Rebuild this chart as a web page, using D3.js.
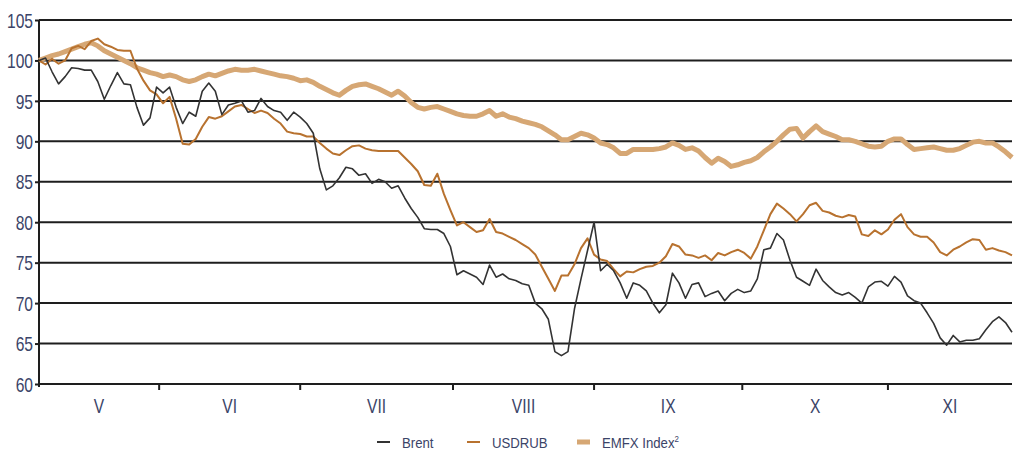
<!DOCTYPE html>
<html>
<head>
<meta charset="utf-8">
<script src="https://cdn.jsdelivr.net/npm/d3@7"></script>
<style>
  body { margin: 0; background: #fff; }
  svg text { font-family: "Liberation Sans", Arial, sans-serif; }
</style>
</head>
<body>
<svg width="1014" height="454"></svg>
<script>
// month labels and where each month starts (trading-day index)
const months = ["V", "VI", "VII", "VIII", "IX", "X", "XI"];
const monthStarts = [0, 18.4, 40, 63.4, 85, 107.7, 130, 149];
const yTicks = [60, 65, 70, 75, 80, 85, 90, 95, 100, 105];

const brent = [
  100, 100.3, 98.6, 97.1, 98, 99.1, 99, 98.8, 98.8, 97.4,
  95.2, 96.9, 98.5, 97.1, 97, 94.2, 92, 92.9, 96.7, 96,
  96.7, 94.2, 92.2, 93.6, 93.1, 96.2, 97.2, 96.2, 93.3, 94.5,
  94.7, 95, 93.6, 93.8, 95.3, 94.3, 93.8, 93.6, 92.6, 93.6,
  93, 92.2, 91, 86.6, 84, 84.5, 85.5, 86.8, 86.6, 85.8,
  86, 84.8, 85.3, 85, 84.2, 84.5, 83, 81.7, 80.6, 79.2,
  79.1, 79.1, 78.6, 77, 73.5, 74, 73.6, 73.2, 72.3, 74.7,
  73.2, 73.6, 73, 72.8, 72.4, 72.2, 70, 69.3, 68, 64,
  63.5, 64, 69.3, 73, 76.5, 80, 74, 74.8, 74, 72.5,
  70.6, 72.5, 72.2, 71.5, 70, 68.8, 69.8, 73.7, 72.5, 70.6,
  72.3, 72.5, 70.8, 71.2, 71.5, 70.3, 71.2, 71.7, 71.3, 71.5,
  73, 76.6, 76.8, 78.6, 77.8, 75.3, 73.2, 72.7, 72.2, 74.2,
  72.8, 72, 71.3, 71, 71.3, 70.7, 70, 72, 72.6, 72.7,
  72.1, 73.3, 72.6, 70.9, 70.3, 70, 68.8, 67.5, 65.7, 64.8,
  66, 65.2, 65.4, 65.4, 65.6, 66.7, 67.7, 68.3, 67.6, 66.4
];

const usdrub = [
  100, 99.5, 100.2, 99.6, 100, 101.5, 101.8, 101.4, 102.4, 102.7,
  102, 101.7, 101.3, 101.2, 101.2, 99, 97.5, 96.3, 95.8, 94.7,
  95.5, 92.8, 89.7, 89.6, 90.3, 91.8, 93, 92.8, 93.1, 93.7,
  94.3, 94.5, 94, 93.5, 93.8, 93.5, 92.8, 92.2, 91.2, 91,
  90.9, 90.6, 90.6, 89.8, 89.1, 88.5, 88.3, 88.9, 89.4, 89.5,
  89.1, 88.9, 88.8, 88.8, 88.8, 88.8, 88, 87.2, 86.3, 84.6,
  84.5, 86, 83.5, 81.5, 79.6, 80, 79.4, 78.8, 79, 80.4,
  78.8, 78.6, 78.2, 77.8, 77.3, 76.8, 76, 74.5, 73, 71.5,
  73.4, 73.4, 74.8, 76.8, 78, 76, 75.4, 75.2, 74.2, 73.3,
  73.9, 73.8, 74.2, 74.5, 74.6, 75, 75.8, 77.3, 77, 76,
  75.9, 75.6, 75.9, 75.3, 76.2, 75.9, 76.3, 76.6, 76.2, 75.5,
  77, 79, 81, 82.3, 81.7, 81, 80.1, 81, 82.1, 82.4,
  81.4, 81.2, 80.8, 80.6, 80.9, 80.7, 78.5, 78.3, 79, 78.5,
  79.1, 80.3, 81, 79.4, 78.5, 78.2, 78.2, 77.5, 76.3, 75.9,
  76.6, 77, 77.5, 77.9, 77.8, 76.6, 76.8, 76.5, 76.3, 75.9
];

const emfx = [
  100, 100.3, 100.6, 100.8, 101.1, 101.4, 101.7, 102, 102.2, 101.8,
  101.2, 100.8, 100.4, 100, 99.6, 99.1, 98.8, 98.5, 98.3, 98,
  98.2, 98, 97.6, 97.4, 97.6, 98, 98.3, 98.1, 98.4, 98.7,
  98.9, 98.8, 98.8, 98.9, 98.7, 98.5, 98.3, 98.1, 98, 97.8,
  97.5, 97.6, 97.3, 96.8, 96.4, 96, 95.7, 96.3, 96.8, 97,
  97.1, 96.8, 96.5, 96.1, 95.7, 96.2, 95.6, 94.8, 94.2, 94,
  94.2, 94.3, 94, 93.7, 93.4, 93.2, 93.1, 93.1, 93.4, 93.8,
  93.1, 93.4, 93, 92.8, 92.5, 92.3, 92.1, 91.8, 91.3, 90.8,
  90.2, 90.2, 90.6, 91, 90.8, 90.4, 89.8, 89.6, 89.2, 88.5,
  88.5, 89, 89, 89, 89, 89.1, 89.3, 89.8, 89.5, 89,
  89.2, 88.8, 88, 87.3, 87.9, 87.5, 86.9, 87.1, 87.4, 87.6,
  88, 88.7, 89.3, 90, 90.8, 91.5, 91.6, 90.4, 91.2, 91.9,
  91.2, 90.9, 90.6, 90.2, 90.2, 90, 89.7, 89.4, 89.3, 89.4,
  90, 90.3, 90.3, 89.6, 89, 89.1, 89.2, 89.3, 89.1, 88.9,
  88.9, 89.1, 89.5, 89.9, 90, 89.8, 89.8, 89.3, 88.7, 88
];

const svg = d3.select("svg");
const plotLeft = 39, plotRight = 1012, plotTop = 20, plotBottom = 384;
const textColor = "#3b4468";
const narrow = 0.78;   // the reference uses a condensed face

const x = d3.scaleLinear().domain([0, brent.length - 1]).range([plotLeft, plotRight]);
const y = d3.scaleLinear().domain([60, 105]).range([plotBottom, plotTop]);

// grid lines
svg.append("g")
  .selectAll("line")
  .data(yTicks)
  .enter()
  .append("line")
  .attr("x1", plotLeft).attr("x2", plotRight)
  .attr("y1", d => y(d)).attr("y2", d => y(d))
  .attr("stroke", "#1e1e1e")
  .attr("stroke-width", 2);

// y axis
const yAxis = svg.append("g")
  .attr("transform", `translate(${plotLeft},0)`)
  .call(d3.axisLeft(y).tickValues(yTicks).tickSize(4).tickPadding(2));
yAxis.select(".domain").attr("stroke", "#1e1e1e").attr("stroke-width", 2)
  .attr("d", `M0,${plotTop}V${plotBottom + 3}`);
yAxis.selectAll(".tick line").attr("stroke", "#1e1e1e").attr("stroke-width", 2);
yAxis.selectAll("text")
  .attr("fill", textColor)
  .style("font-size", "20px")
  .attr("x", -6 / narrow)
  .attr("dy", "0.36em")
  .attr("transform", `scale(${narrow},1)`);

// x axis: month boundary ticks and centered labels
const xAxis = svg.append("g").attr("transform", `translate(0,${plotBottom})`);
xAxis.selectAll("line")
  .data(monthStarts.slice(1, -1))
  .enter()
  .append("line")
  .attr("x1", d => x(d)).attr("x2", d => x(d))
  .attr("y1", 0).attr("y2", 6)
  .attr("stroke", "#1e1e1e")
  .attr("stroke-width", 2);
xAxis.selectAll("text")
  .data(months)
  .enter()
  .append("text")
  .attr("transform", (d, i) =>
    `translate(${x((monthStarts[i] + monthStarts[i + 1]) / 2)},29) scale(${narrow},1)`)
  .attr("text-anchor", "middle")
  .attr("fill", textColor)
  .style("font-size", "20px")
  .text(d => d);

const line = d3.line()
  .x((d, i) => x(i))
  .y(d => y(d));

const series = [
  { name: "EMFX", values: emfx, color: "#d6a774", width: 5 },
  { name: "USDRUB", values: usdrub, color: "#b8722f", width: 2 },
  { name: "Brent", values: brent, color: "#333333", width: 1.6 }
];

svg.append("g")
  .selectAll("path")
  .data(series)
  .enter()
  .append("path")
  .attr("fill", "none")
  .attr("stroke", d => d.color)
  .attr("stroke-width", d => d.width)
  .attr("stroke-linejoin", "round")
  .attr("d", d => line(d.values));

// legend
const legendItems = [
  { label: "Brent", color: "#333333", h: 2, x: 377 },
  { label: "USDRUB", color: "#b8722f", h: 2, x: 467 },
  { label: "EMFX Index", color: "#d6a774", h: 5, x: 577 }
];
const legend = svg.append("g").attr("transform", "translate(0,442)");
legend.selectAll("rect")
  .data(legendItems)
  .enter()
  .append("rect")
  .attr("x", d => d.x)
  .attr("y", d => -d.h / 2)
  .attr("width", 13)
  .attr("height", d => d.h)
  .attr("fill", d => d.color);
const lt = legend.selectAll("text")
  .data(legendItems)
  .enter()
  .append("text")
  .attr("transform", d => `translate(${d.x + 25},6) scale(0.88,1)`)
  .attr("fill", textColor)
  .style("font-size", "15px")
  .text(d => d.label);
lt.filter(d => d.label === "EMFX Index")
  .append("tspan")
  .attr("dy", -6)
  .style("font-size", "9px")
  .text("2");
</script>
</body>
</html>
